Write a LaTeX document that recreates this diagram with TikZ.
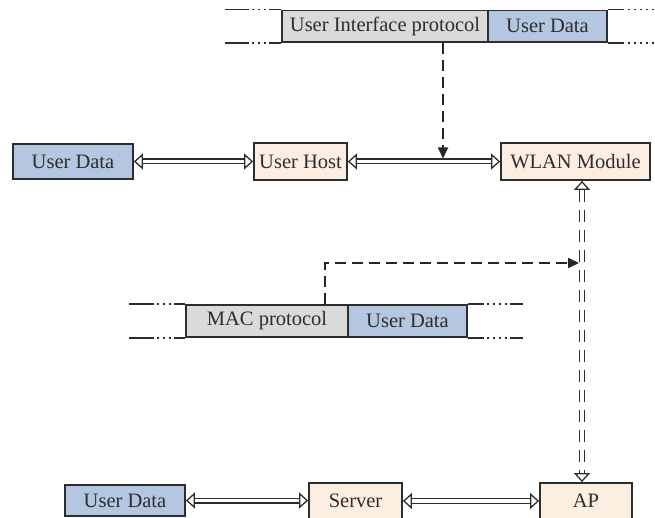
\documentclass[tikz,border=0pt]{standalone}
\usepackage{fontspec}
\setmainfont{Liberation Serif}
\usetikzlibrary{arrows.meta}
\definecolor{datablue}{RGB}{180,198,224}
\definecolor{hostpeach}{RGB}{253,238,226}
\definecolor{hdrgray}{RGB}{218,218,218}
\definecolor{ink}{RGB}{45,45,45}
\begin{document}
\begin{tikzpicture}[x=1pt,y=-1pt,
  box/.style={draw=ink, line width=1.8pt, inner sep=0pt, text=ink,
    font=\fontsize{20.5}{24}\selectfont},
  datafield/.style={box, fill=datablue},
  hdrfield/.style={box, fill=hdrgray},
  device/.style={box, fill=hostpeach},
  dbl/.style={draw=ink, line width=1.3pt, double=white, double distance=3.4pt,
    {Triangle[open,length=9pt,width=16pt]}-{Triangle[open,length=9pt,width=16pt]}},
  dasharrow/.style={draw=black!85, line width=1.8pt, dash pattern=on 11pt off 6pt,
    -{Triangle[length=11pt,width=10pt]}},
  frameline/.style={draw=ink, line width=1.8pt},
]
\useasboundingbox (0,0) rectangle (655,518);

% user interface frame
\node[hdrfield, minimum width=206pt, minimum height=31.5pt] (uip) at (385,26.25) {User Interface protocol};
\node[datafield, minimum width=119pt, minimum height=31.5pt] (uid) at (547.5,26.25) {User Data};
\draw[frameline, dash pattern=on 12pt off 3pt on 2pt off 4pt on 2pt off 4pt on 2pt off 3pt on 24pt]
  (uip.north west) -- ++(-56,0);
\draw[frameline, dash pattern=on 12pt off 3pt on 2pt off 4pt on 2pt off 4pt on 2pt off 3pt on 24pt]
  (uip.south west) -- ++(-56,0);
\draw[frameline, dash pattern=on 16pt off 4pt on 2pt off 4pt on 2pt off 4pt on 2pt off 4pt on 2pt off 4pt on 2pt off 4pt]
  (uid.north east) -- ++(48,0);
\draw[frameline, dash pattern=on 16pt off 4pt on 2pt off 4pt on 2pt off 4pt on 2pt off 4pt on 2pt off 4pt on 2pt off 4pt]
  (uid.south east) -- ++(48,0);

% host side
\node[datafield, minimum width=120pt, minimum height=35pt] (ud1) at (73,161.5) {User Data};
\node[device, minimum width=93pt, minimum height=37pt] (host) at (300.5,161.5) {User Host};
\node[device, minimum width=149pt, minimum height=37pt] (wlan) at (575.5,161.5) {WLAN Module};

% MAC frame
\node[hdrfield, minimum width=162pt, minimum height=32pt] (mac) at (267,321) {MAC protocol};
\node[datafield, minimum width=119pt, minimum height=32pt] (macd) at (407.5,321) {User Data};
\draw[frameline, dash pattern=on 11pt off 3pt on 2pt off 4pt on 2pt off 4pt on 2pt off 3pt on 25pt]
  (mac.north west) -- ++(-56,0);
\draw[frameline, dash pattern=on 11pt off 3pt on 2pt off 4pt on 2pt off 4pt on 2pt off 3pt on 25pt]
  (mac.south west) -- ++(-56,0);
\draw[frameline, dash pattern=on 16pt off 3pt on 2pt off 4pt on 2pt off 4pt on 2pt off 4pt on 2pt off 3pt on 14pt]
  (macd.north east) -- ++(55,0);
\draw[frameline, dash pattern=on 16pt off 3pt on 2pt off 4pt on 2pt off 4pt on 2pt off 4pt on 2pt off 3pt on 14pt]
  (macd.south east) -- ++(55,0);

% server side
\node[datafield, minimum width=120pt, minimum height=31pt] (ud4) at (125,500.5) {User Data};
\node[device, minimum width=93pt, minimum height=36pt] (server) at (355.5,501) {Server};
\node[device, minimum width=92pt, minimum height=36pt] (ap) at (586,501) {AP};

% links
\draw[dbl] (ud1.east) -- (host.west);
\draw[dbl] (host.east) -- (wlan.west);
\draw[dbl] (ud4.east) -- (ud4.east -| server.west);
\draw[dbl] (server.east) -- (ap.west);

\coordinate (radio) at (582,0);
\draw[dbl, dash pattern=on 12pt off 8pt] (wlan.south -| radio) -- (ap.north -| radio);

% protocol taps
\coordinate (tap1) at (443,0);
\coordinate (hit1) at (443,158.5);
\draw[dasharrow] (uip.south -| tap1) -- (hit1);

\coordinate (tap2) at (325,0);
\coordinate (hit2) at (579,263);
\draw[dasharrow] (mac.north -| tap2) |- (hit2);
\end{tikzpicture}
\end{document}
